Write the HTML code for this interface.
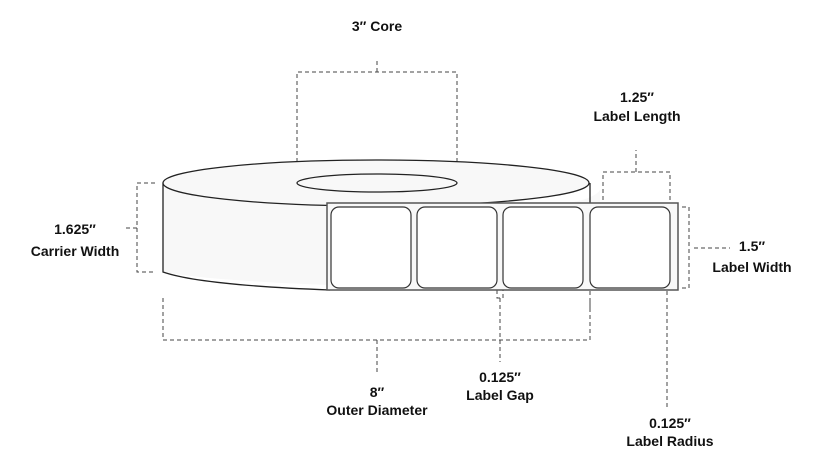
<!DOCTYPE html>
<html><head><style>body{margin:0;background:#fff}svg{display:block}text{font-family:"Liberation Sans",sans-serif;font-weight:bold;font-size:14px;fill:#111;text-anchor:middle}</style></head>
<body>
<svg width="820" height="468" viewBox="0 0 820 468">
<g fill="none" stroke="#444" stroke-width="1" stroke-dasharray="4,3">
<path d="M297 183V72H457V183M377 72V58"/>
<path d="M155 183H137V272H155M137 228H124"/>
<path d="M163 298V340H590V298M377 340V372"/>
<path d="M603 207V172H670V207M636 172V150"/>
<path d="M682 207H689V288H682M694 248H730"/>
<path d="M497 290V298H503V290M500 298V362"/>
<path d="M590 291V312M667 291V408"/>
</g>
<path d="M163 183V272Q250 288 600 290L600 190Q590 205 520 207Z" fill="#f8f8f8" stroke="none"/>
<path d="M163 183V272Q200 285 330 290" fill="none" stroke="#222" stroke-width="1.3"/>
<ellipse cx="376" cy="183" rx="213" ry="23" fill="#f8f8f8" stroke="#222" stroke-width="1.3"/>
<line x1="590" y1="183" x2="590" y2="203" stroke="#222" stroke-width="1.3"/>
<ellipse cx="377" cy="183" rx="80" ry="9" fill="#f8f8f8" stroke="#222" stroke-width="1.3"/>
<rect x="327" y="203" width="351" height="87" fill="#f8f8f8" stroke="#555" stroke-width="1.5"/>
<g fill="#fff" stroke="#333" stroke-width="1.2">
<rect x="331" y="207" width="80" height="81" rx="8"/>
<rect x="417" y="207" width="80" height="81" rx="8"/>
<rect x="503" y="207" width="80" height="81" rx="8"/>
<rect x="590" y="207" width="80" height="81" rx="8"/>
</g>
<text x="377" y="31">3″ Core</text>
<text x="637" y="102">1.25″</text>
<text x="637" y="121">Label Length</text>
<text x="75" y="234">1.625″</text>
<text x="75" y="256">Carrier Width</text>
<text x="752" y="251">1.5″</text>
<text x="752" y="272">Label Width</text>
<text x="377" y="397">8″</text>
<text x="377" y="415">Outer Diameter</text>
<text x="500" y="382">0.125″</text>
<text x="500" y="400">Label Gap</text>
<text x="670" y="428">0.125″</text>
<text x="670" y="446">Label Radius</text>
</svg>
</body></html>
